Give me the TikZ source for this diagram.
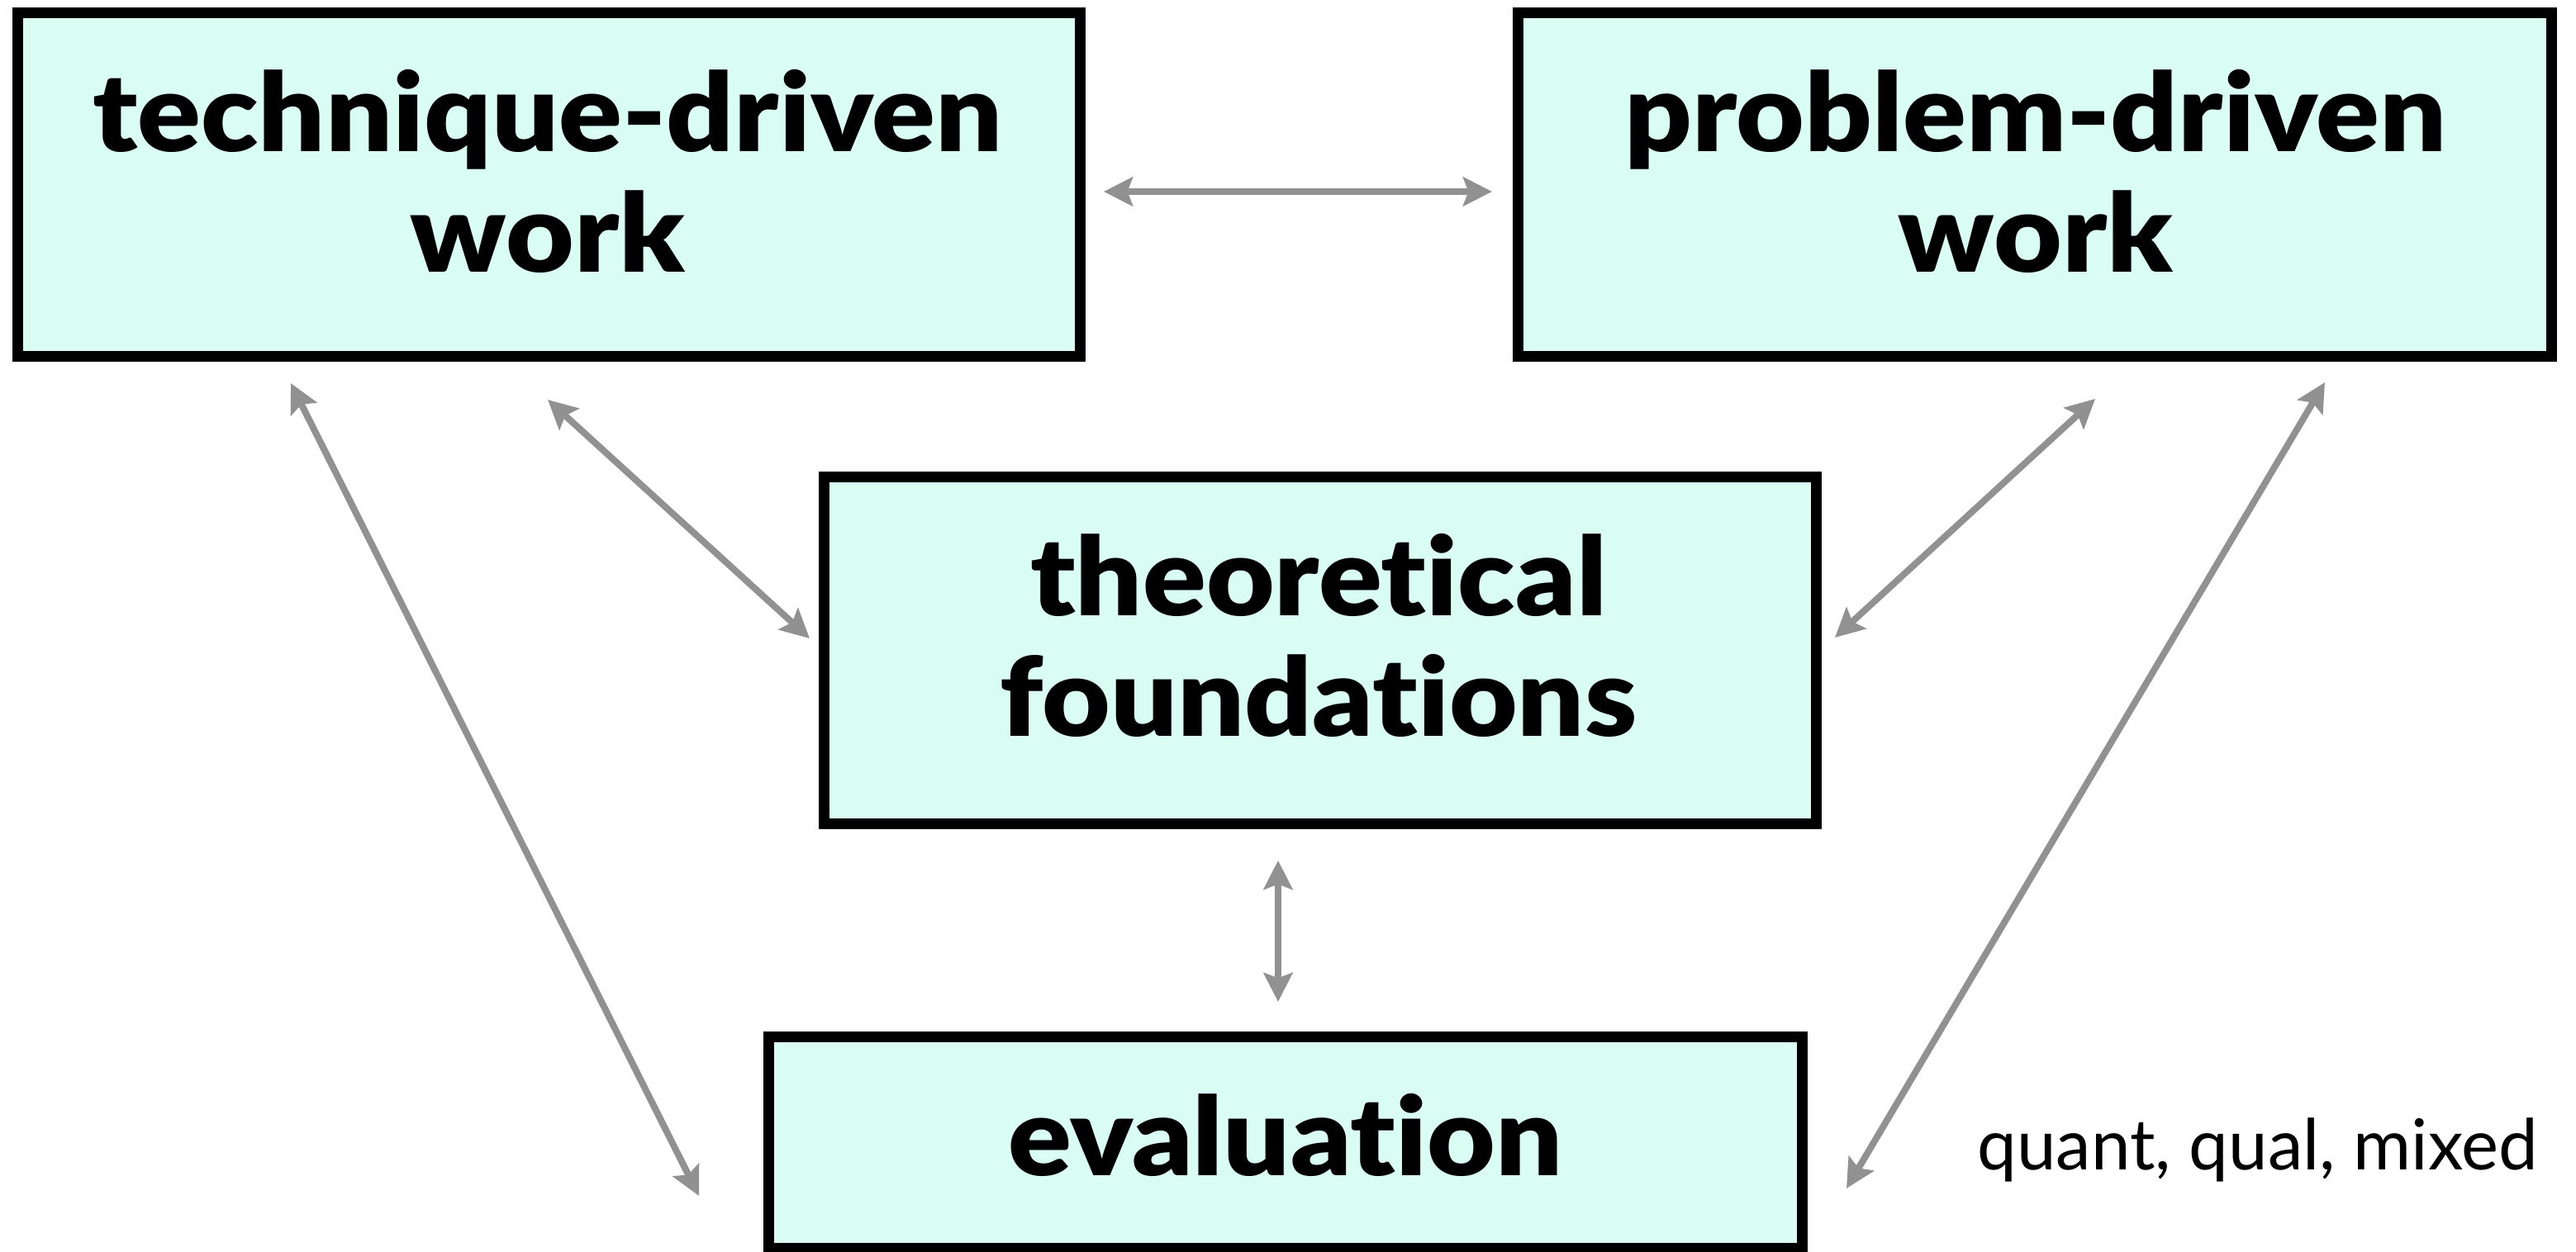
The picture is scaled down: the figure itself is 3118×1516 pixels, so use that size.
\documentclass[tikz,border=0pt]{standalone}
\usepackage{fontspec}
\setmainfont{Lato}[Ligatures=NoCommon, BoldFont={Lato Black}, BoldFeatures={FakeStretch=1.08}]
\usetikzlibrary{arrows.meta}
\definecolor{boxfill}{RGB}{217,253,243}
\definecolor{arrowgray}{RGB}{145,145,145}
\tikzset{
  box/.style={draw=black, fill=boxfill, line width=3.25pt, inner sep=0pt, outer sep=0pt},
  title/.style={font=\bfseries\fontsize{33}{36.5}\selectfont, align=center, inner sep=0pt, outer sep=0pt},
  note/.style={font=\fontsize{21.3}{26}\selectfont, inner sep=0pt, outer sep=0pt},
  link/.style={draw=arrowgray, line width=2pt, {Stealth[length=8.75pt,width=8.75pt,inset=1.6pt]}-{Stealth[length=8.75pt,width=8.75pt,inset=1.6pt]}}
}
\begin{document}
\begin{tikzpicture}[x=0.25pt,y=-0.25pt]
\useasboundingbox (0,0) rectangle (3118,1516);
% boxes
\node[box, minimum width={1286*0.25pt}, minimum height={416*0.25pt}] (tech) at (664.5,223.5) {};
\node[box, minimum width={1251*0.25pt}, minimum height={416*0.25pt}] (prob) at (2463,223.5) {};
\node[box, minimum width={1201*0.25pt}, minimum height={420*0.25pt}] (theo) at (1598,787.5) {};
\node[box, minimum width={1251*0.25pt}, minimum height={256*0.25pt}] (eval) at (1556,1383.5) {};
% texts
\node[title] (techtext) at (663,207) {technique-driven\\work};
\node[title] (probtext) at (2464,207) {problem-driven\\work};
\node[title] (theotext) at (1596,769.5) {theoretical\\foundations};
\node[title] (evaltext) at (1556,1374.5) {evaluation};
\node[note, anchor=base] (methods) at (2733,1417) {quant, qual, mixed};
% connector ends
\coordinate (h1) at (1336,232);
\coordinate (h2) at (1806,232);
\coordinate (l1a) at (352,464);
\coordinate (l1b) at (846,1448);
\coordinate (l2a) at (663,484);
\coordinate (l2b) at (980,773);
\coordinate (r2a) at (2536,483);
\coordinate (r2b) at (2221,772);
\coordinate (r1a) at (2814,463);
\coordinate (r1b) at (2235,1439);
\coordinate (va) at (1547,1042);
\coordinate (vb) at (1547,1213);
% connectors
\draw[link] (h1) -- (h2);
\draw[link] (l1a) -- (l1b);
\draw[link] (l2a) -- (l2b);
\draw[link] (r2a) -- (r2b);
\draw[link] (r1a) -- (r1b);
\draw[link] (va) -- (vb);
\end{tikzpicture}
\end{document}
